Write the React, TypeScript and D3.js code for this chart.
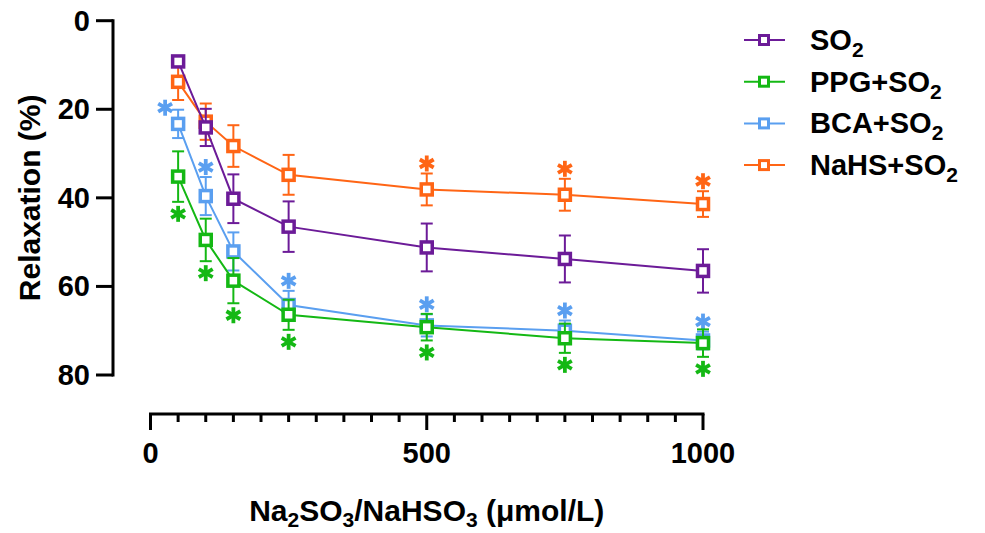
import React from "react";
import { scaleLinear, line, range } from "d3";

// concentrations (µmol/L)
const doses = [50, 100, 150, 250, 500, 750, 1000];

const seriesNames = ["SO2", "PPG+SO2", "BCA+SO2", "NaHS+SO2"];
const seriesColors = ["#6c1b98", "#14b814", "#5a9ff0", "#ff6515"];

// mean relaxation (%) per series
const so2Mean = [9.2, 24.1, 40.2, 46.5, 51.2, 53.8, 56.5];
const ppgMean = [35.2, 49.5, 58.7, 66.4, 69.2, 71.7, 72.8];
const bcaMean = [23.3, 39.6, 52.1, 64.2, 68.8, 70.0, 72.2];
const nahsMean = [13.8, 22.8, 28.3, 34.8, 38.1, 39.3, 41.4];

// error bars (SEM)
const so2Err = [1.0, 4.2, 5.5, 5.7, 5.4, 5.3, 4.9];
const ppgErr = [5.7, 4.8, 5.1, 3.4, 3.0, 3.3, 3.1];
const bcaErr = [3.2, 4.3, 4.3, 3.2, 2.5, 2.3, 2.0];
const nahsErr = [4.1, 4.1, 4.7, 4.5, 3.6, 3.6, 2.9];

// significance stars: "up" = above bar, "down" = below bar
const so2Sig = ["", "", "", "", "", "", ""];
const ppgSig = ["down", "down", "down", "down", "down", "down", "down"];
const bcaSig = ["up", "up", "", "up", "up", "up", "up"];
const nahsSig = ["", "", "", "", "up", "up", "up"];

const xTicks = [0, 500, 1000];
const yTicks = [0, 20, 40, 60, 80];

const font = "'Liberation Sans', Arial, sans-serif";

function Star({ cx, cy, color }: { cx: number; cy: number; color: string }) {
  const r = 8;
  const arms = [90, 30, 150];
  return (
    <g stroke={color} strokeWidth={3.8} strokeLinecap="butt">
      {arms.map((a) => {
        const dx = Math.cos((a * Math.PI) / 180) * r;
        const dy = Math.sin((a * Math.PI) / 180) * r;
        return <line key={a} x1={cx - dx} y1={cy - dy} x2={cx + dx} y2={cy + dy} />;
      })}
    </g>
  );
}

export default function App() {
  const width = 985;
  const height = 533;

  const x = scaleLinear().domain([0, 1000]).range([150.5, 703]);
  const y = scaleLinear().domain([0, 80]).range([20.7, 375]);

  const means = [so2Mean, ppgMean, bcaMean, nahsMean];
  const errs = [so2Err, ppgErr, bcaErr, nahsErr];
  const sigs = [so2Sig, ppgSig, bcaSig, nahsSig];

  // drawing order: orange, purple, blue, green
  const drawOrder = [3, 0, 2, 1];

  const path = line<number>()
    .x((_, i) => x(doses[i]))
    .y((d) => y(d));

  const axisY = 414;
  const axisX = 113;
  const minorTicks = range(0, 1001, 50);

  const legendLabels = ["SO", "PPG+SO", "BCA+SO", "NaHS+SO"];

  return (
    <svg width={width} height={height} style={{ display: "block", position: "absolute", left: 0, top: 0 }}>
      <rect width={width} height={height} fill="white" />

      {/* y axis */}
      <line x1={axisX} x2={axisX} y1={y(0) - 1.5} y2={y(80) + 1.5} stroke="black" strokeWidth={3} />
      {yTicks.map((t) => (
        <g key={t}>
          <line x1={axisX - 17} x2={axisX} y1={y(t)} y2={y(t)} stroke="black" strokeWidth={3} />
          <text
            x={90}
            y={y(t) + 10}
            textAnchor="end"
            fontFamily={font}
            fontWeight="bold"
            fontSize={29}
          >
            {t}
          </text>
        </g>
      ))}
      <text
        transform={`translate(40, ${y(40)}) rotate(-90)`}
        textAnchor="middle"
        fontFamily={font}
        fontWeight="bold"
        fontSize={30}
      >
        Relaxation (%)
      </text>

      {/* x axis */}
      <line x1={x(0) - 1.5} x2={x(1000) + 1.5} y1={axisY} y2={axisY} stroke="black" strokeWidth={3} />
      {minorTicks.map((t) => {
        const major = xTicks.includes(t);
        return (
          <line
            key={t}
            x1={x(t)}
            x2={x(t)}
            y1={axisY}
            y2={axisY + (major ? 16 : 8)}
            stroke="black"
            strokeWidth={3}
          />
        );
      })}
      {xTicks.map((t) => (
        <text
          key={t}
          x={x(t)}
          y={463}
          textAnchor="middle"
          fontFamily={font}
          fontWeight="bold"
          fontSize={29}
        >
          {t}
        </text>
      ))}
      <text x={x(500)} y={521} textAnchor="middle" fontFamily={font} fontWeight="bold" fontSize={30}>
        Na<tspan fontSize={21} dy={6}>2</tspan>
        <tspan dy={-6}>SO</tspan>
        <tspan fontSize={21} dy={6}>3</tspan>
        <tspan dy={-6}>/NaHSO</tspan>
        <tspan fontSize={21} dy={6}>3</tspan>
        <tspan dy={-6}> (μmol/L)</tspan>
      </text>

      {/* series */}
      {drawOrder.map((s) => {
        const color = seriesColors[s];
        const m = means[s];
        const e = errs[s];
        return (
          <g key={seriesNames[s]}>
            <path d={path(m) || ""} fill="none" stroke={color} strokeWidth={2} />
            {m.map((v, i) => {
              const cx = x(doses[i]);
              const top = y(v - e[i]);
              const bot = y(v + e[i]);
              return (
                <g key={i} stroke={color} strokeWidth={2}>
                  <line x1={cx} x2={cx} y1={top} y2={bot} />
                  <line x1={cx - 6} x2={cx + 6} y1={top} y2={top} />
                  <line x1={cx - 6} x2={cx + 6} y1={bot} y2={bot} />
                </g>
              );
            })}
            {m.map((v, i) => (
              <rect
                key={"m" + i}
                x={x(doses[i]) - 5.5}
                y={y(v) - 5.5}
                width={11}
                height={11}
                fill="white"
                stroke={color}
                strokeWidth={3.5}
              />
            ))}
            {m.map((v, i) => {
              const sig = sigs[s][i];
              if (!sig) return null;
              const cx = x(doses[i]);
              if (sig === "up") {
                // the first point's star sits beside the bar to avoid the neighbour
                if (i === 0) return <Star key={"s" + i} cx={cx - 13} cy={y(v - e[i]) - 2} color={color} />;
                return <Star key={"s" + i} cx={cx} cy={y(v - e[i]) - 10} color={color} />;
              }
              return <Star key={"s" + i} cx={cx} cy={y(v + e[i]) + 12} color={color} />;
            })}
          </g>
        );
      })}

      {/* legend */}
      {seriesNames.map((name, i) => {
        const cy = 40 + i * 41.7;
        const color = seriesColors[i];
        return (
          <g key={name}>
            <line x1={744} x2={785} y1={cy} y2={cy} stroke={color} strokeWidth={2} />
            <rect x={759.5} y={cy - 4.5} width={9} height={9} fill="white" stroke={color} strokeWidth={3} />
            <text x={810} y={cy + 10} fontFamily={font} fontWeight="bold" fontSize={29}>
              {legendLabels[i]}
              <tspan fontSize={21} dy={7}>2</tspan>
            </text>
          </g>
        );
      })}
    </svg>
  );
}
